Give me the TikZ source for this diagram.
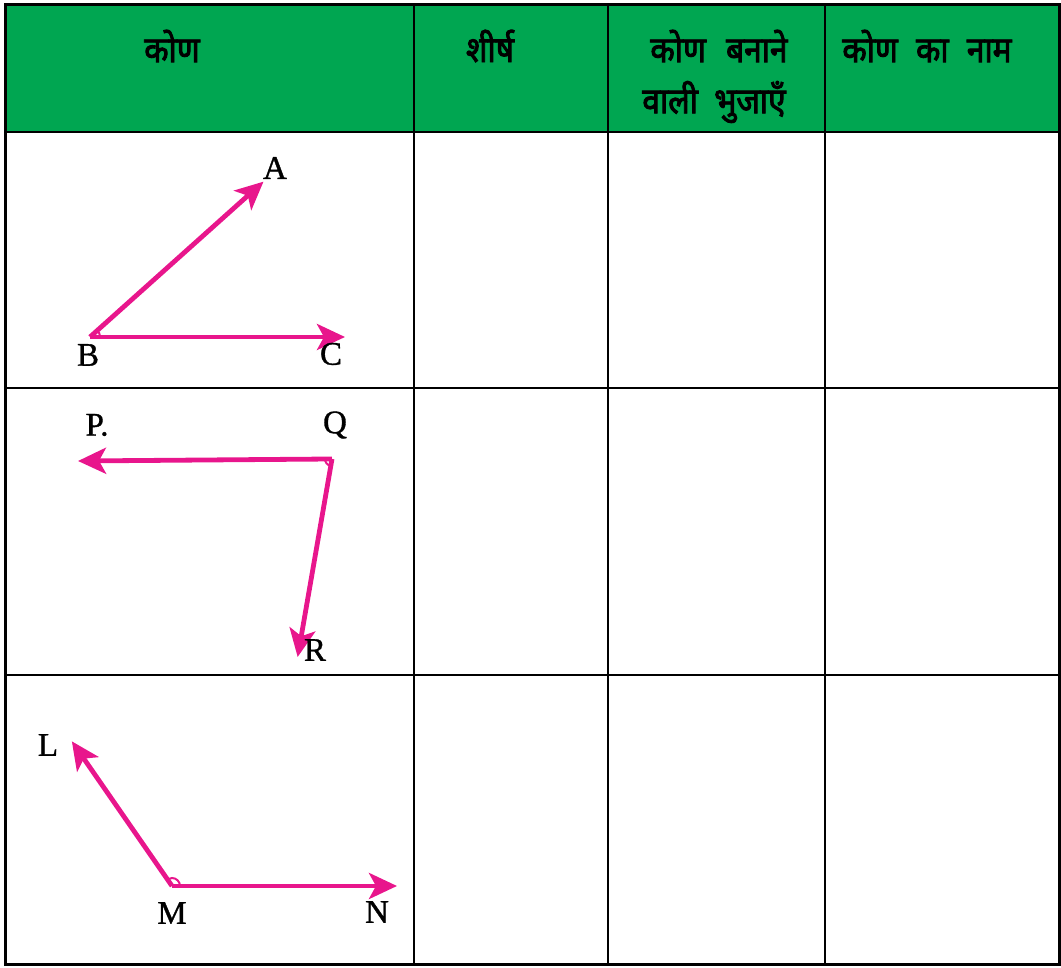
\documentclass[tikz,border=0pt]{standalone}
\usepackage{fontspec}
\setmainfont{Liberation Serif}
\newfontfamily\hindi[Script=Devanagari, FakeBold=2.5, FakeStretch=0.88]{Noto Sans}
\newfontfamily\lblfont[FakeBold=1]{Liberation Serif}
\usetikzlibrary{arrows.meta,calc}
\definecolor{hdrgreen}{RGB}{0,166,81}
\definecolor{rayPink}{RGB}{232,22,140}
\tikzset{
  grid/.style={line width=2.6pt, black},
  hdr/.style={font=\hindi\fontsize{36}{42}\selectfont, anchor=center, inner sep=0pt},
  ptlabel/.style={font=\lblfont\fontsize{33}{35}\selectfont, anchor=center, inner sep=0pt},
  ray/.style={line width=4.8pt, rayPink, -{Stealth[length=28pt, width=26pt, inset=7pt]}, shorten >=-2pt},
  anglemark/.style={line width=2pt, rayPink}
}
\begin{document}
\begin{tikzpicture}[x=1pt, y=1pt]
\useasboundingbox (0,0) rectangle (1061,968);
% header fill
\fill[hdrgreen] (5,836) rectangle (1059,963);
% grid
\draw[grid, line width=3pt] (5,3) rectangle (1059,963);
\draw[grid] (5,836) -- (1059,836);
\draw[grid] (5,580) -- (1059,580);
\draw[grid] (5,293) -- (1059,293);
\draw[grid] (414,3) -- (414,963);
\draw[grid] (608,3) -- (608,963);
\draw[grid] (825,3) -- (825,963);
% header texts
\node[hdr] (h1) at (172,922) {कोण};
\node[hdr] (h2) at (490,922) {शीर्ष};
\node[hdr] (h3a) at (719,922) {कोण\hspace{12pt} बनाने};
\node[hdr] (h3b) at (714,866) {वाली\hspace{8pt} भुजाएँ};
\node[hdr] (h4) at (927,922) {कोण\hspace{10pt} का\hspace{10pt} नाम};
% angle ABC
\coordinate (B) at (90,631);
\coordinate (A) at (262,785);
\coordinate (C) at (343,631);
\draw[ray] (B) -- (A);
\draw[ray] (B) -- (C);
\draw[anglemark] ($(B)+(10,0)$) arc[start angle=0, end angle=41.8, radius=10];
\node[ptlabel] (lA) at (275,800) {A};
\node[ptlabel] (lB) at (88,613) {B};
\node[ptlabel] (lC) at (331,614) {C};
% angle PQR
\coordinate (Q) at (332,509);
\coordinate (P) at (80,507);
\coordinate (R) at (298,313);
\draw[ray] (Q) -- (P);
\draw[ray] (Q) -- (R);
\draw[anglemark] ($(Q)+(-7,0)$) arc[start angle=180, end angle=260, radius=7];
\node[ptlabel] (lP) at (97,543) {P.};
\node[ptlabel] (lQ) at (335,543) {Q};
\node[ptlabel] (lR) at (315,318) {R};
% angle LMN
\coordinate (M) at (172,82);
\coordinate (L) at (73,225);
\coordinate (N) at (395,82);
\draw[ray] (M) -- (L);
\draw[ray] (M) -- (N);
\draw[anglemark] ($(M)+(8,0)$) arc[start angle=0, end angle=124.7, radius=8];
\node[ptlabel] (lL) at (48,223) {L};
\node[ptlabel] (lM) at (172,55) {M};
\node[ptlabel] (lN) at (377,56) {N};
\end{tikzpicture}
\end{document}
